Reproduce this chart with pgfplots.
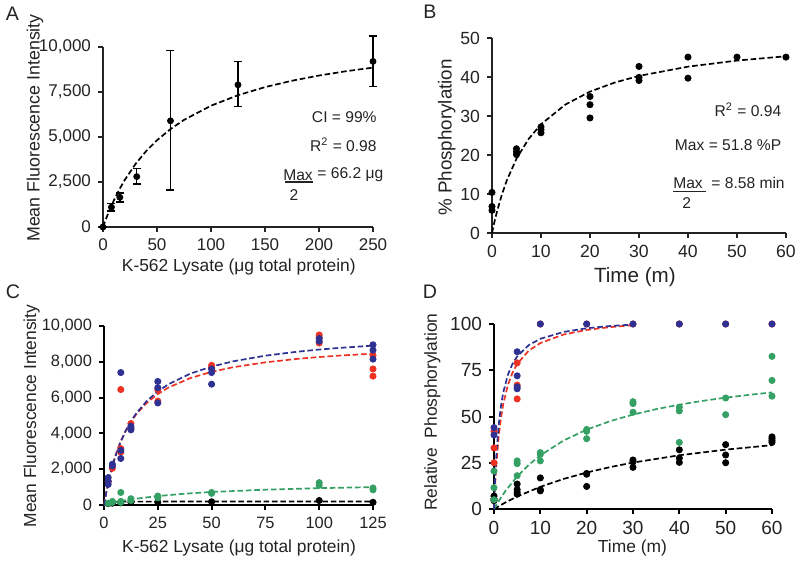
\documentclass[border=0pt]{standalone}
\usepackage{pgfplots}
\pgfplotsset{compat=1.18}
\usepackage{fontspec}
\setmainfont{Liberation Sans}
\definecolor{pblue}{RGB}{46,49,146}
\definecolor{pred}{RGB}{237,50,36}
\definecolor{pgreen}{RGB}{52,160,100}
\definecolor{axc}{RGB}{35,35,35}
\pgfplotsset{
  prism/.style={
    scale only axis,
    axis lines*=left,
    axis line style={line width=0.75pt, axc},
    tick align=outside,
    major tick length=2.5pt,
    tick style={line width=0.75pt, axc},
    tick label style={font=\fontsize{8.2}{9}\selectfont, text=axc},
    label style={font=\fontsize{8.7}{10}\selectfont, text=axc},
    /pgf/number format/assume math mode=true,
    /pgf/number format/1000 sep={,},
    scaled ticks=false,
    clip=false,
    minor tick num=0,
  },
  fit/.style={dashed, line width=0.85pt, dash pattern=on 2.8pt off 1.4pt, mark=none},
  dots/.style={only marks, mark=*, mark size=1.55pt},
}
\begin{document}
\begin{tikzpicture}
\useasboundingbox (0,0) rectangle (400pt,-281pt);
% ---------------- Panel A ----------------
\begin{axis}[prism, at={(51.5pt,-113.5pt)}, anchor=south west,
  width=135pt, height=90pt,
  tick label style={font=\fontsize{8.5}{9}\selectfont},
  xmin=0, xmax=250, ymin=0, ymax=10000,
  xtick={0,50,100,150,200,250}, ytick={0,2500,5000,7500,10000},
  xlabel={K-562 Lysate (μg total protein)},
  ylabel={Mean Fluorescence Intensity},
  xlabel style={at={(axis description cs:0.503,-0.222)}, anchor=center},
  ylabel style={at={(axis description cs:-0.252,0.55)}, anchor=center, font=\fontsize{8.9}{10}\selectfont},
]
\addplot[fit, black] coordinates {(0,0) (2.5,408) (5,787) (10,1470) (15,2069) (20,2599) (30,3493) (40,4219) (50,4819) (62.5,5439) (75,5949) (100,6739) (125,7322) (150,7771) (175,8126) (200,8415) (225,8654) (250,8855)};
\addplot[dots, black, mark size=1.5pt,
  error bars/.cd, y dir=both, y explicit,
  error bar style={line width=0.75pt, black},
  error mark options={rotate=90, mark size=2pt, line width=0.75pt, black}]
  table[x=x, y=y, y error plus=ep, y error minus=em] {
x y ep em
0 0 0 0
7.8 1100 200 200
15.6 1650 250 250
31.25 2800 450 400
62.5 5900 3900 3850
125 7900 1300 1200
250 9200 1400 1400
};
\end{axis}
% ---------------- Panel B ----------------
\begin{axis}[prism, at={(246pt,-116.5pt)}, anchor=south west,
  width=147pt, height=97.5pt,
  tick label style={font=\fontsize{8.8}{10}\selectfont},
  xmin=0, xmax=60, ymin=0, ymax=50,
  xtick={0,10,20,30,40,50,60}, ytick={0,10,20,30,40,50},
  xlabel={Time (m)},
  ylabel={\% Phosphorylation},
  xlabel style={at={(axis description cs:0.486,-0.226)}, anchor=center, font=\fontsize{10.3}{12}\selectfont},
  ylabel style={at={(axis description cs:-0.154,0.49)}, anchor=center, font=\fontsize{9.4}{11}\selectfont},
]
\addplot[fit, black] coordinates {(0,0) (0.5,2.85) (1,5.41) (2,9.79) (3,13.42) (5,19.07) (7.5,24.16) (10,27.88) (15,32.95) (20,36.25) (25,38.56) (30,40.28) (40,42.65) (50,44.21) (60,45.32)};
\addplot[dots, black] table {
x y
0 10.4
0 6.8
0 5.8
5 21.6
5 20.8
5 20.1
10 27.2
10 26.5
10 25.7
20 35.0
20 32.9
20 29.5
30 42.7
30 39.9
30 39.1
40 45.1
40 39.7
50 45.1
60 45.1
};
\end{axis}
% ---------------- Panel C ----------------
\begin{axis}[prism, at={(52pt,-252.5pt)}, anchor=south west,
  width=134.5pt, height=89.5pt,
  axis line style={line width=1pt, black}, tick style={line width=1pt, black},
  xmin=0, xmax=125, ymin=0, ymax=10000,
  xtick={0,25,50,75,100,125}, ytick={0,2000,4000,6000,8000,10000},
  xlabel={K-562 Lysate (μg total protein)},
  ylabel={Mean Fluorescence Intensity},
  xlabel style={at={(axis description cs:0.502,-0.24)}, anchor=center},
  ylabel style={at={(axis description cs:-0.269,0.497)}, anchor=center},
]
\addplot[dots, black] table {
x y
1.95 80
3.9 100
7.8 120
12.5 150
25 150
50 180
100 250
125 150
};
\addplot[fit, black] coordinates {(0,190) (25,190) (50,195) (75,200) (100,200) (125,200)};
\addplot[dots, pgreen] table {
x y
1.95 100
3.9 150
3.9 200
7.8 700
7.8 200
7.8 150
12.5 350
12.5 250
25 500
25 400
50 700
50 650
100 1250
100 1100
125 950
125 850
};
\addplot[fit, pgreen] coordinates {(0,0) (2.5,75) (5,143) (10,258) (15,353) (25,500) (37.5,631) (50,727) (75,857) (100,941) (125,1000)};
\addplot[dots, pred] table {
x y
1.95 1300
3.9 2050
7.8 6450
7.8 3150
7.8 2950
12.5 4550
12.5 4250
25 6450
25 5800
50 7800
50 7650
100 9500
100 9350
100 9050
125 8350
125 7600
125 7200
};
\addplot[fit, pred] coordinates {(0,0) (1,689) (2,1283) (3,1800) (5,2657) (7.5,3488) (10,4133) (12.5,4650) (15,5073) (20,5723) (25,6200) (30,6565) (40,7086) (50,7440) (60,7697) (75,7971) (90,8166) (100,8267) (110,8351) (125,8455)};
\addplot[dots, pblue] table {
x y
1.95 1530
1.95 1340
1.95 1150
3.9 2280
3.9 2180
7.8 7400
7.8 3050
7.8 2600
12.5 4400
12.5 4300
12.5 4200
25 6900
25 6550
25 5700
50 7600
50 7400
50 6750
100 9300
100 9150
125 8950
125 8650
125 8150
};
\addplot[fit, pblue] coordinates {(0,0) (1,660) (2,1238) (3,1747) (5,2605) (7.5,3453) (10,4125) (12.5,4670) (15,5121) (20,5824) (25,6346) (30,6750) (40,7333) (50,7734) (60,8027) (75,8343) (90,8567) (100,8684) (110,8782) (125,8903)};
\end{axis}
% ---------------- Panel D ----------------
\begin{axis}[prism, at={(247pt,-254.5pt)}, anchor=south west,
  width=139pt, height=92.5pt,
  axis line style={line width=1pt, black}, tick style={line width=1pt, black},
  tick label style={font=\fontsize{9.5}{11}\selectfont},
  xmin=0, xmax=60, ymin=0, ymax=100,
  xtick={0,10,20,30,40,50,60}, ytick={0,25,50,75,100},
  xlabel={Time (m)},
  ylabel={Relative\ \ Phosphorylation},
  xlabel style={at={(axis description cs:0.498,-0.21)}, anchor=center},
  ylabel style={at={(axis description cs:-0.222,0.524)}, anchor=center},
]
\addplot[dots, black] table {
x y
0 7
0 5.5
0 4.5
5 13.5
5 10.5
5 9
5 8
10 16.8
10 10.5
10 9.8
20 19.2
20 18.8
20 12.2
30 26.5
30 25.5
30 22.5
40 32
40 27.5
40 25.2
50 34.8
50 29.2
50 25
60 39
60 38
60 37
60 36
};
\addplot[fit, black] coordinates {(0,0) (2.5,3.58) (5,6.73) (10,12.0) (15,16.24) (20,19.71) (25,22.62) (30,25.09) (40,29.05) (50,32.09) (60,34.5)};
\addplot[dots, pgreen] table {
x y
0 20.5
0 11.5
0 5
5 26
5 24.5
5 18
10 30.5
10 29.5
10 26
20 43
20 42
20 38
30 58
30 57
30 52.3
40 55
40 53
40 36
50 60
50 51
60 82.5
60 69.5
60 61
};
\addplot[fit, pgreen] coordinates {(0,0) (1,4.25) (2.5,9.86) (5,17.61) (7.5,23.86) (10,29.0) (15,36.99) (20,42.9) (25,47.44) (30,51.04) (35,53.97) (40,56.40) (45,58.44) (50,60.19) (55,61.69) (60,63.01)};
\addplot[dots, pred] table {
x y
0 42
0 33
0 25
5 79
5 67
5 59.5
10 100
20 100
30 100
40 100
50 100
60 100
};
\addplot[fit, pred] coordinates {(0,0) (0.25,13.46) (0.5,23.9) (1,38.9) (1.5,49.2) (2,56.8) (3,67.0) (4,73.7) (5,78.4) (7.5,85.6) (10,89.7) (15,94.3) (20,96.8) (25,98.3) (30,99.4)};
\addplot[dots, pblue] table {
x y
0 44
0 40
5 85
5 72
5 66
5 65
10 100
20 100
30 100
40 100
50 100
60 100
};
\addplot[fit, pblue] coordinates {(0,0) (0.25,16.77) (0.5,28.9) (1,45.2) (1.5,55.7) (2,63.0) (3,72.6) (4,78.5) (5,82.5) (7.5,88.6) (10,92.0) (15,95.7) (20,97.7) (25,98.9) (30,99.7)};
\end{axis}
% ---------------- Panel letters ----------------
\begin{scope}[every node/.style={font=\fontsize{9.8}{12}\selectfont, text=axc, inner sep=0pt}]
\node at (6.25pt,-7pt) {A};
\node at (215pt,-6pt) {B};
\node at (6.5pt,-146pt) {C};
\node at (215pt,-146pt) {D};
\end{scope}
% ---------------- Annotations ----------------
\begin{scope}[every node/.style={font=\fontsize{7.8}{9}\selectfont, text=axc, inner sep=0pt}]
\node[anchor=east] at (188.5pt,-58.5pt) {CI = 99\%};
\node[anchor=east] at (188.5pt,-72.5pt) {R\textsuperscript{2} = 0.98};
\node[anchor=west] at (158.5pt,-87.5pt) {= 66.2 μg};
\node[anchor=center] at (149pt,-87.5pt) {Max};
\draw[line width=0.6pt, axc] (142.5pt,-91pt) -- (156.5pt,-91pt);
\node at (147pt,-97.5pt) {2};
\node[anchor=east] at (390.8pt,-55pt) {R\textsuperscript{2} = 0.94};
\node[anchor=east] at (390.8pt,-72.5pt) {Max = 51.8 \%P};
\node[anchor=west] at (355.5pt,-91.7pt) {= 8.58 min};
\node[anchor=center] at (344pt,-91.7pt) {Max};
\draw[line width=0.6pt, axc] (336.5pt,-95.8pt) -- (353pt,-95.8pt);
\node at (343.3pt,-101.7pt) {2};
\end{scope}
\end{tikzpicture}
\end{document}
